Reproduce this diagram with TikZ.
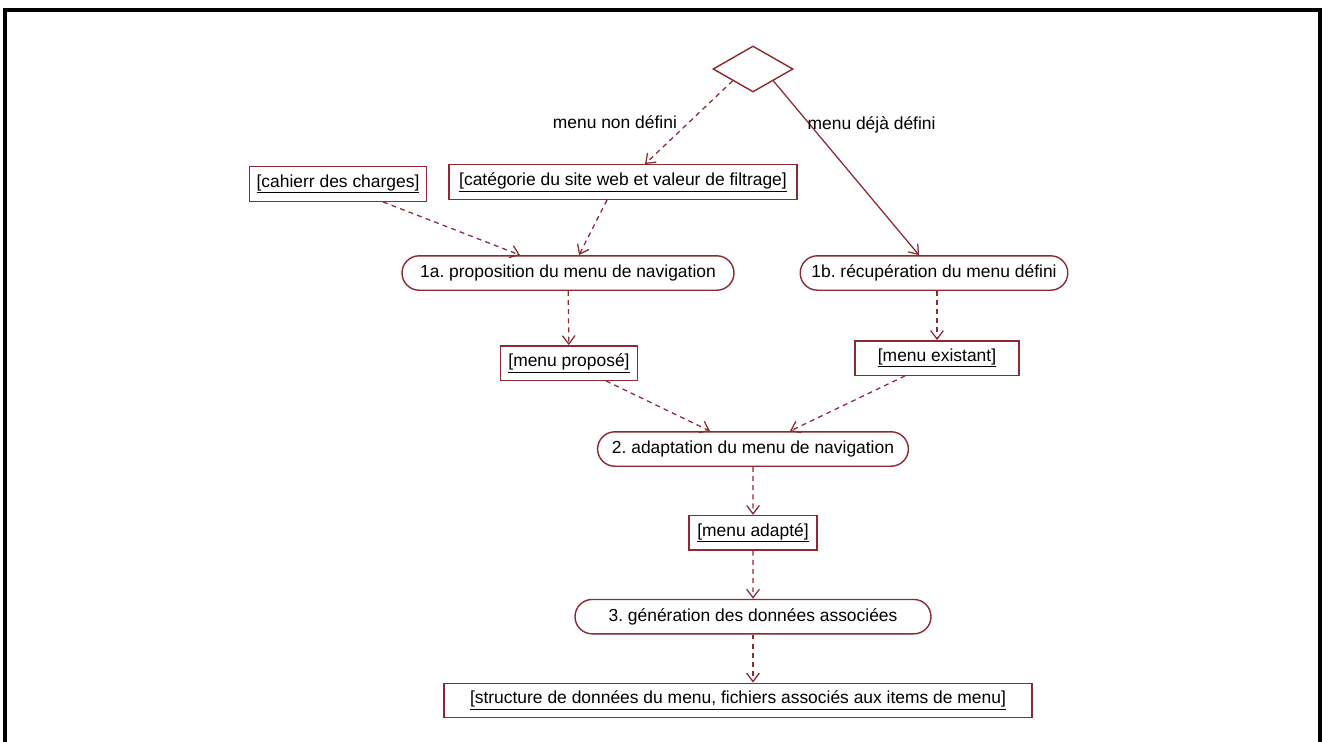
\documentclass[tikz,border=0pt]{standalone}
\usepackage{fontspec}
\setmainfont{Liberation Sans}
\usetikzlibrary{positioning,shapes.geometric,shapes.misc,arrows.meta,calc}
\definecolor{brick}{HTML}{8C2A32}
\frenchspacing

\begin{document}
\begin{tikzpicture}[x=0.025cm, y=-0.025cm, font=\fontsize{12.4}{15}\selectfont,
  node distance=1.2cm,
  objbox/.style={draw=brick, line width=1pt, minimum height=0.86cm, inner xsep=5pt},
  actbox/.style={rounded rectangle, draw=brick, line width=1pt, minimum height=0.86cm, inner xsep=8pt},
  choice/.style={diamond, draw=brick, line width=1pt, minimum width=2cm, minimum height=1.15cm, inner sep=0pt},
  flow/.style={-{Straight Barb[length=6pt,width=9pt]}, brick, line width=0.9pt, dash pattern=on 3.5pt off 3pt},
  guard/.style={text=black, inner sep=2pt}
]
\useasboundingbox (0,0) rectangle (1322,742);
\draw[line width=2.2pt] (5,742) -- (5,10) -- (1320,10) -- (1320,742);

\node[choice] (choice) at (753,69) {};
\node[objbox, minimum width=4.43cm] (cahier) at (338,184) {\underline{[cahierr des charges]}};
\node[objbox, minimum width=8.7cm] (categ) at (623,182) {\underline{[catégorie du site web et valeur de filtrage]}};
\node[actbox, minimum width=8.86cm] (propose) at (568,273) {1a. proposition du menu de navigation};
\node[actbox, minimum width=7.25cm] (recup) at (934,273) {1b. récupération du menu défini};
\node[objbox, minimum width=3.43cm] (mprop) at (569,363) {\underline{[menu proposé]}};
\node[objbox, minimum width=4.1cm] (mexist) at (937,358) {\underline{[menu existant]}};
\node[actbox, minimum width=8.33cm] (adapt) at (753,449) {2. adaptation du menu de navigation};
\node[objbox, minimum width=3.2cm, below=of adapt] (madapt) {\underline{[menu adapté]}};
\node[actbox, minimum width=9.46cm, below=of madapt] (gener) {3. génération des données associées};
\node[objbox, minimum width=14.7cm, below=of gener, xshift=-0.375cm] (struct) {\underline{[structure de données du menu, fichiers associés aux items de menu]}};

% decision
\draw[flow] (choice.south west) -- node[guard, pos=0.5, left=6pt] {menu non défini} ($(categ.north)+(22,0)$);
\draw[flow, solid] (choice.south east) -- node[guard, pos=0.25, right=-4pt] {menu déjà défini} ($(recup.north)+(-15,0)$);
% inputs of 1a
\draw[flow] ($(cahier.south)+(45,0)$) -- ($(propose.north)+(-48,0)$);
\draw[flow] ($(categ.south)+(-16,0)$) -- ($(propose.north)+(11,0)$);
\draw[flow] (propose) -- (mprop);
\draw[flow] (recup.south -| mexist) -- (mexist);
% adaptation
\draw[flow] ($(mprop.south)+(37,0)$) -- ($(adapt.north)+(-43,0)$);
\draw[flow] ($(mexist.south)+(-32,0)$) -- ($(adapt.north)+(37,0)$);
\draw[flow] (adapt) -- (madapt);
\draw[flow] (madapt) -- (gener);
\draw[flow] (gener.south) -- (gener.south |- struct.north);
\end{tikzpicture}
\end{document}
